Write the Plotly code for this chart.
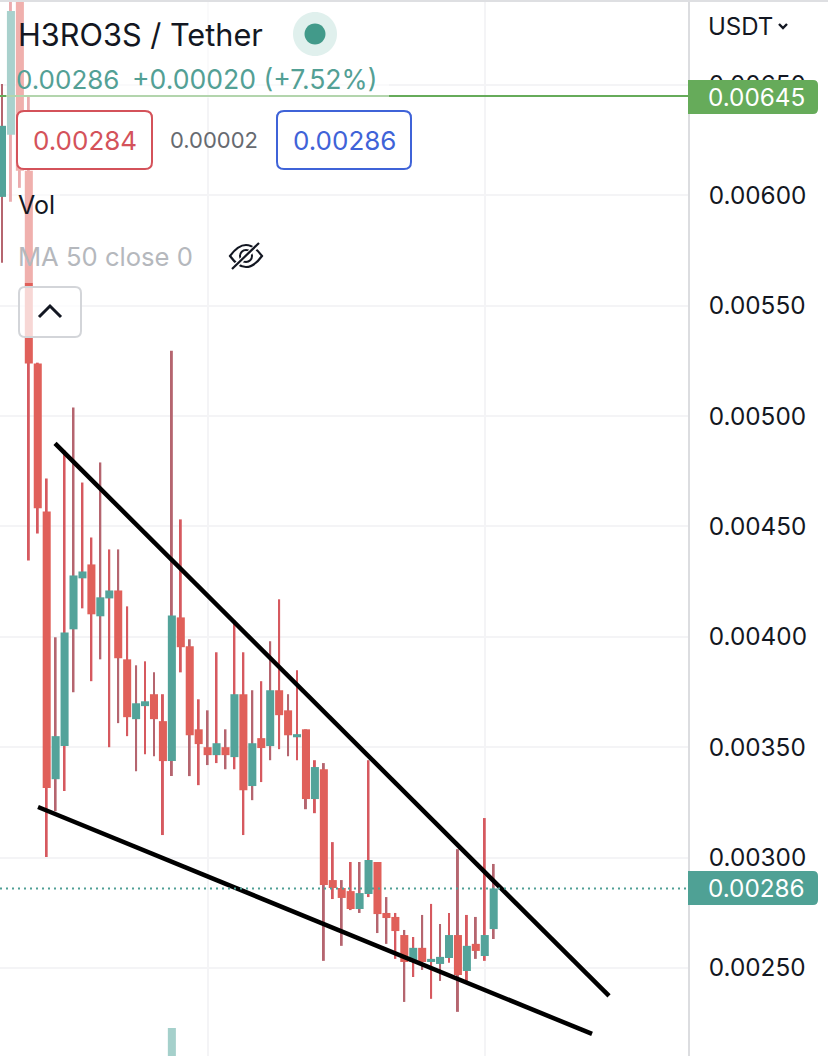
import plotly.graph_objects as go

# Daily sessions, oldest first. Prices in USDT.
sessions = list(range(56))
opens = [0.005993, 0.006274, 0.007016, 0.006111, 0.005238, 0.004568, 0.003355, 0.003505, 0.004034, 0.004265,
         0.004328, 0.004093, 0.004174, 0.004210, 0.003898, 0.003627, 0.003686, 0.003740, 0.003618, 0.003437,
         0.004088, 0.003957, 0.003581, 0.003500, 0.003464, 0.003500, 0.003455, 0.003740, 0.003324, 0.003541,
         0.003505, 0.003758, 0.003667, 0.003545, 0.003581, 0.003265, 0.003400, 0.002898, 0.002862, 0.002848,
         0.002767, 0.002835, 0.002980, 0.002749, 0.002731, 0.002649, 0.002527, 0.002591, 0.002527, 0.002518,
         0.002545, 0.002649, 0.002486, 0.002609, 0.002554, 0.002676]
closes = [0.006315, 0.006835, 0.006111, 0.005238, 0.004582, 0.003315, 0.003550, 0.004020, 0.004278, 0.004296,
          0.004102, 0.004179, 0.004210, 0.003903, 0.003636, 0.003699, 0.003708, 0.003627, 0.003437, 0.004097,
          0.003953, 0.003554, 0.003514, 0.003464, 0.003518, 0.003464, 0.003740, 0.003305, 0.003518, 0.003496,
          0.003758, 0.003645, 0.003554, 0.003559, 0.003265, 0.003410, 0.002876, 0.002862, 0.002817, 0.002767,
          0.002839, 0.002989, 0.002744, 0.002726, 0.002667, 0.002527, 0.002591, 0.002527, 0.002541, 0.002550,
          0.002649, 0.002468, 0.002600, 0.002577, 0.002649, 0.002860]
highs = [0.006505, 0.006971, 0.007152, 0.006455, 0.005242, 0.004717, 0.003998, 0.004844, 0.005039, 0.004699,
         0.004450, 0.004790, 0.004396, 0.004396, 0.004138, 0.003871, 0.003889, 0.003839, 0.003740, 0.005296,
         0.004532, 0.003989, 0.003717, 0.003667, 0.003930, 0.003581, 0.004075, 0.003930, 0.003758, 0.003799,
         0.003980, 0.004170, 0.003740, 0.003848, 0.003581, 0.003441, 0.003428, 0.003070, 0.002898, 0.002980,
         0.002980, 0.003441, 0.002980, 0.002821, 0.002749, 0.002672, 0.002640, 0.002740, 0.002790, 0.002699,
         0.002749, 0.003038, 0.002740, 0.002731, 0.003179, 0.002971]
lows = [0.005695, 0.005971, 0.006034, 0.004346, 0.004468, 0.003002, 0.003210, 0.003301, 0.003749, 0.004129,
        0.003799, 0.003898, 0.003500, 0.003609, 0.003550, 0.003391, 0.003468, 0.003459, 0.003102, 0.003369,
        0.003839, 0.003369, 0.003328, 0.003419, 0.003428, 0.003400, 0.003400, 0.003102, 0.003260, 0.003342,
        0.003441, 0.003491, 0.003459, 0.003441, 0.003219, 0.003201, 0.002532, 0.002812, 0.002600, 0.002762,
        0.002749, 0.002821, 0.002658, 0.002609, 0.002541, 0.002346, 0.002459, 0.002491, 0.002360, 0.002441,
        0.002523, 0.002301, 0.002441, 0.002541, 0.002532, 0.002631]

volume_sessions = [19]
volume_values = [28000]

y_ticks = [0.0025, 0.0030, 0.0035, 0.0040, 0.0045, 0.0050, 0.0055, 0.0060, 0.0065]
month_starts = [23, 54]

upper_trend_sessions = [5.93, 67.9]
upper_trend_prices = [0.004876, 0.002373]
lower_trend_sessions = [4.03, 66.0]
lower_trend_prices = [0.003229, 0.002201]

last_price = 0.00286
high_price = 0.00645
bid_text = "0.00284"
spread_text = "0.00002"
ask_text = "0.00286"

UP = "#53a39a"
DOWN = "#e0605a"
WICK = "#d6595f"
WICK_SOFT = "#b5656f"
SOFT_WICKS = {0, 6, 8, 11, 13, 15, 17, 19, 21, 23, 25, 28, 30, 32, 34, 36, 38, 40, 42, 43, 45, 47, 49, 51, 53, 55}
INK = "#131722"
GRID = "#f4f4f6"
FONT = "Inter, Liberation Sans, sans-serif"

WIDTH, HEIGHT, PLOT_W = 828, 1056, 688
STEP = 8.94  # horizontal pixels per session

body_colors = [UP if c >= o else DOWN for o, c in zip(opens, closes)]
wick_colors = [WICK_SOFT if i in SOFT_WICKS else WICK for i in sessions]


def screen_shape(path, line=None, width=0, fill=None):
    """Path in screen pixels from the top-left corner of the figure."""
    return dict(type="path", xref="paper", yref="paper", xsizemode="pixel", ysizemode="pixel",
                xanchor=0, yanchor=1, path=path,
                line=dict(color=line or "rgba(0,0,0,0)", width=width),
                fillcolor=fill or "rgba(0,0,0,0)", layer="above")


def pt(x, y):
    return f"{x},{-y}"


def round_rect(x0, y0, x1, y1, r):
    return (f"M {pt(x0 + r, y0)} L {pt(x1 - r, y0)} Q {pt(x1, y0)} {pt(x1, y0 + r)} "
            f"L {pt(x1, y1 - r)} Q {pt(x1, y1)} {pt(x1 - r, y1)} L {pt(x0 + r, y1)} "
            f"Q {pt(x0, y1)} {pt(x0, y1 - r)} L {pt(x0, y0 + r)} Q {pt(x0, y0)} {pt(x0 + r, y0)} Z")


def price_tag(y0, y1):
    x0, x1, r = 688, 818, 5
    return (f"M {pt(x0, y0)} L {pt(x1 - r, y0)} Q {pt(x1, y0)} {pt(x1, y0 + r)} "
            f"L {pt(x1, y1 - r)} Q {pt(x1, y1)} {pt(x1 - r, y1)} L {pt(x0, y1)} Z")


def circle(cx, cy, r):
    k = 0.5523 * r
    return (f"M {pt(cx - r, cy)} C {pt(cx - r, cy - k)} {pt(cx - k, cy - r)} {pt(cx, cy - r)} "
            f"C {pt(cx + k, cy - r)} {pt(cx + r, cy - k)} {pt(cx + r, cy)} "
            f"C {pt(cx + r, cy + k)} {pt(cx + k, cy + r)} {pt(cx, cy + r)} "
            f"C {pt(cx - k, cy + r)} {pt(cx - r, cy + k)} {pt(cx - r, cy)} Z")


def label(text, x, y, size, color, anchor="left"):
    return dict(text=text, xref="paper", yref="paper", x=x / PLOT_W, y=1 - y / HEIGHT,
                xanchor=anchor, yanchor="middle", showarrow=False, align=anchor,
                font=dict(family=FONT, size=size, color=color))


fig = go.Figure()
fig.add_bar(x=sessions, y=[h - l for h, l in zip(highs, lows)], base=lows, width=0.22,
            marker=dict(color=wick_colors, line_width=0), hoverinfo="skip")
fig.add_bar(x=sessions, y=[abs(c - o) for o, c in zip(opens, closes)],
            base=[min(o, c) for o, c in zip(opens, closes)], width=0.9,
            marker=dict(color=body_colors, line_width=0))
fig.add_bar(x=volume_sessions, y=volume_values, width=0.9, yaxis="y2",
            marker=dict(color="#a5d0cb", line_width=0))

for xs, ys in ((upper_trend_sessions, upper_trend_prices), (lower_trend_sessions, lower_trend_prices)):
    fig.add_scatter(x=xs, y=ys, mode="lines", line=dict(color="#000000", width=4.5))

shapes = [
    # Last-price and high-price lines across the pane
    dict(type="line", xref="paper", x0=0, x1=1, yref="y", y0=last_price, y1=last_price,
         line=dict(color="#4f9f95", width=2, dash="2px,4px"), layer="above"),
    dict(type="line", xref="paper", x0=0, x1=1, yref="y", y0=high_price, y1=high_price,
         line=dict(color="#66ab5a", width=2), layer="above"),
    # Washed-out strip behind the legend
    screen_shape(f"M {pt(6, 0)} L {pt(389, 0)} L {pt(389, 98)} L {pt(6, 98)} Z", fill="rgba(255,255,255,0.5)"),
    screen_shape(f"M {pt(6, 98)} L {pt(60, 98)} L {pt(60, 283)} L {pt(6, 283)} Z", fill="rgba(255,255,255,0.5)"),
    # Figure top edge
    screen_shape(f"M {pt(0, 1)} L {pt(828, 1)}", line="#dedfe2", width=2),
    # Status dot
    screen_shape(circle(315, 34, 22), fill="#e0f0ed"),
    screen_shape(circle(315, 34, 10.5), fill="#429a8a"),
    # Bid and ask boxes
    screen_shape(round_rect(17, 111, 152, 169, 7), line="#d4525a", width=2, fill="#ffffff"),
    screen_shape(round_rect(277, 111, 411, 169, 7), line="#3f63d8", width=2, fill="#ffffff"),
    # Eye-off icon
    screen_shape(f"M {pt(230, 256)} Q {pt(246, 234)} {pt(262, 256)} Q {pt(246, 278)} {pt(230, 256)} Z",
                 line=INK, width=2.2),
    screen_shape(circle(246, 256, 6), line=INK, width=2),
    screen_shape(f"M {pt(233, 268)} L {pt(259, 244)}", line="#ffffff", width=5),
    screen_shape(f"M {pt(232, 269)} L {pt(259, 243)}", line=INK, width=2.2),
    # Collapse button
    screen_shape(round_rect(19, 287, 81, 337, 6), line="#d3d5d9", width=2, fill="rgba(255,255,255,0.75)"),
    screen_shape(f"M {pt(39, 317)} L {pt(50, 306)} L {pt(61, 317)}", line=INK, width=3),
    # Currency chevron
    screen_shape(f"M {pt(779, 24)} L {pt(783, 28)} L {pt(787, 24)}", line=INK, width=2.4),
    # Price tags on the axis
    screen_shape(price_tag(80, 114), fill="#66ab5a"),
    screen_shape(price_tag(871, 905), fill="#4fa195"),
]

annotations = [
    label("H3RO3S / Tether", 16, 34, 30.7, INK),
    label("0.00286", 14, 79, 26, "#53a095"),
    label("+0.00020 (+7.52%)", 130, 79, 26.6, "#53a095"),
    label(bid_text, 84.5, 140, 26, "#d4525a", "center"),
    label(spread_text, 214, 140, 22, "#666a70", "center"),
    label(ask_text, 344, 140, 26, "#3f63d8", "center"),
    label("Vol", 16, 205, 25, INK),
    label("MA 50 close 0", 16, 256, 25.6, "#b5b8bd"),
    label("USDT", 706, 27, 24, INK),
    label(f"{high_price:.5f}", 706, 97, 24.3, "#ffffff"),
    label(f"{last_price:.5f}", 706, 888, 24.3, "#ffffff"),
]

fig.update_layout(
    width=WIDTH, height=HEIGHT, margin=dict(l=0, r=WIDTH - PLOT_W, t=0, b=0),
    paper_bgcolor="#ffffff", plot_bgcolor="#ffffff", showlegend=False, barmode="overlay",
    xaxis=dict(range=[-2 / STEP, (PLOT_W - 2) / STEP], tickvals=month_starts, showticklabels=False, ticks="",
               showgrid=True, gridcolor=GRID, gridwidth=2, zeroline=False, showline=False, fixedrange=True),
    yaxis=dict(range=[0.002101, 0.006885], side="right", tickvals=y_ticks, tickformat=".5f", ticks="",
               ticklabelstandoff=14, tickfont=dict(family=FONT, size=24.3, color=INK),
               showgrid=True, gridcolor=GRID, gridwidth=2, zeroline=False,
               showline=True, linecolor="#dcdde0", linewidth=2, fixedrange=True),
    yaxis2=dict(overlaying="y", range=[0, 1056000], visible=False, fixedrange=True),
    shapes=shapes, annotations=annotations,
)

fig.write_html("out.html")
